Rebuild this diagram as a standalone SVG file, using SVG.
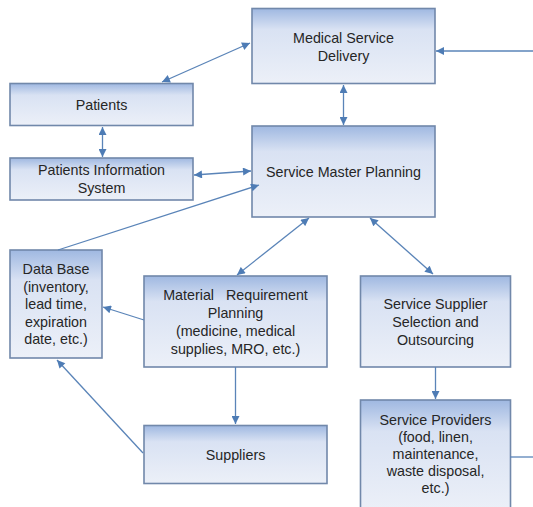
<svg xmlns="http://www.w3.org/2000/svg" width="533" height="507" viewBox="0 0 533 507">
  <defs>
    <linearGradient id="boxFill" x1="0" y1="0" x2="0" y2="1">
      <stop offset="0" stop-color="#9fb8e1"/>
      <stop offset="0.28" stop-color="#d9e2f3"/>
      <stop offset="1" stop-color="#ecf0f8"/>
    </linearGradient>
    <marker id="arrow" viewBox="0 0 10 10" refX="10" refY="5" markerWidth="9" markerHeight="8" markerUnits="userSpaceOnUse" orient="auto-start-reverse">
      <path d="M0,0 L10,5 L0,10 Z" fill="#4e7cb5"/>
    </marker>
    <style>
      .box { fill: url(#boxFill); stroke: #7188aa; stroke-width: 1.6; }
      .lbl { font-family: "Liberation Sans", Arial, sans-serif; font-size: 14.3px; fill: #262626; text-anchor: middle; }
      .conn { stroke: #5a84b8; stroke-width: 1.3; fill: none; }
      .two { marker-start: url(#arrow); marker-end: url(#arrow); }
      .one { marker-end: url(#arrow); }
    </style>
  </defs>
  <rect width="533" height="507" fill="#ffffff"/>

  <!-- nodes -->
  <g id="medical-service-delivery">
    <rect class="box" x="252" y="8.5" width="183" height="75"/>
    <text class="lbl" x="343.5" y="42.5">Medical Service</text>
    <text class="lbl" x="343.5" y="60.5">Delivery</text>
  </g>
  <g id="patients">
    <rect class="box" x="10" y="83.5" width="183" height="42"/>
    <text class="lbl" x="101.5" y="109.5">Patients</text>
  </g>
  <g id="patients-information-system">
    <rect class="box" x="10" y="158" width="183" height="42"/>
    <text class="lbl" x="101.5" y="175">Patients Information</text>
    <text class="lbl" x="101.5" y="192.5">System</text>
  </g>
  <g id="service-master-planning">
    <rect class="box" x="252" y="126" width="183" height="91"/>
    <text class="lbl" x="343.5" y="176.5">Service Master Planning</text>
  </g>
  <g id="data-base">
    <rect class="box" x="10" y="250" width="92" height="108"/>
    <text class="lbl" x="56" y="274">Data Base</text>
    <text class="lbl" x="56" y="291.5">(inventory,</text>
    <text class="lbl" x="56" y="309">lead time,</text>
    <text class="lbl" x="56" y="326.5">expiration</text>
    <text class="lbl" x="56" y="344">date, etc.)</text>
  </g>
  <g id="material-requirement-planning">
    <rect class="box" x="144" y="276" width="183" height="91"/>
    <text class="lbl" x="235.5" y="300" word-spacing="8">Material Requirement</text>
    <text class="lbl" x="235.5" y="318">Planning</text>
    <text class="lbl" x="235.5" y="336">(medicine, medical</text>
    <text class="lbl" x="235.5" y="354">supplies, MRO, etc.)</text>
  </g>
  <g id="service-supplier-selection">
    <rect class="box" x="360.5" y="276" width="150" height="91"/>
    <text class="lbl" x="435.5" y="308.5">Service Supplier</text>
    <text class="lbl" x="435.5" y="326.5">Selection and</text>
    <text class="lbl" x="435.5" y="344.5">Outsourcing</text>
  </g>
  <g id="suppliers">
    <rect class="box" x="144" y="425.5" width="183" height="58"/>
    <text class="lbl" x="235.5" y="459.5">Suppliers</text>
  </g>
  <g id="service-providers">
    <rect class="box" x="360.5" y="400" width="150" height="112"/>
    <text class="lbl" x="435.5" y="425">Service Providers</text>
    <text class="lbl" x="435.5" y="442">(food, linen,</text>
    <text class="lbl" x="435.5" y="459">maintenance,</text>
    <text class="lbl" x="435.5" y="476">waste disposal,</text>
    <text class="lbl" x="435.5" y="493">etc.)</text>
  </g>

  <!-- connectors, drawn over the boxes so every arrowhead stays visible -->
  <g id="connectors">
    <line class="conn two" x1="162" y1="82" x2="250" y2="43"/>
    <line class="conn one" x1="533" y1="51" x2="436" y2="51"/>
    <line class="conn two" x1="343.5" y1="85" x2="343.5" y2="125"/>
    <line class="conn two" x1="102.5" y1="127" x2="102.5" y2="157"/>
    <line class="conn two" x1="194" y1="175" x2="251" y2="171"/>
    <line class="conn one" x1="58" y1="250" x2="259" y2="185"/>
    <line class="conn two" x1="309" y1="218" x2="237" y2="275"/>
    <line class="conn two" x1="370" y1="218" x2="433" y2="274"/>
    <line class="conn one" x1="144" y1="320" x2="103" y2="307"/>
    <line class="conn one" x1="235.5" y1="367" x2="235.5" y2="424"/>
    <line class="conn one" x1="143" y1="453" x2="57" y2="360"/>
    <line class="conn one" x1="435.5" y1="367" x2="435.5" y2="399"/>
    <line class="conn" x1="510" y1="457" x2="533" y2="457"/>
  </g>
</svg>
